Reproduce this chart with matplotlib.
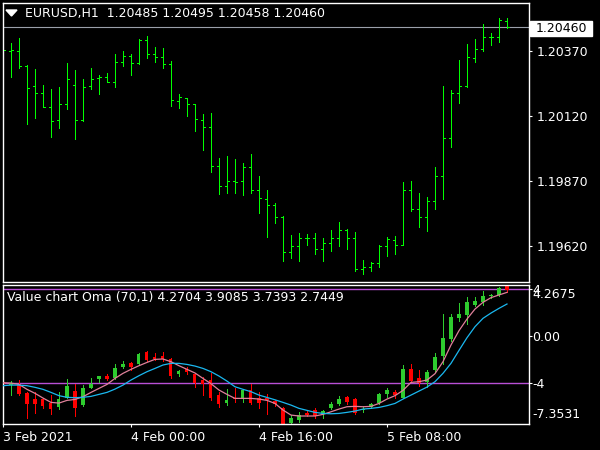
import numpy as np
import matplotlib
matplotlib.use('Agg')
import matplotlib.pyplot as plt
from matplotlib.patches import Rectangle, Polygon

# EURUSD H1 bars (open, high, low, close)
bar_open = [1.20391, 1.20368, 1.20368, 1.20309, 1.20233, 1.20206, 1.20154, 1.20102,
            1.20164, 1.20237, 1.20102, 1.20233, 1.20263, 1.20267, 1.20248, 1.20325,
            1.20348, 1.20321, 1.20409, 1.20355, 1.20344, 1.20317, 1.20175, 1.20187,
            1.20164, 1.20102, 1.20076, 1.19926, 1.19850, 1.19870, 1.19869, 1.19922,
            1.19834, 1.19800, 1.19777, 1.19733, 1.19598, 1.19620, 1.19650, 1.19650,
            1.19608, 1.19633, 1.19650, 1.19684, 1.19650, 1.19532, 1.19539, 1.19555,
            1.19622, 1.19644, 1.19624, 1.19834, 1.19762, 1.19731, 1.19792, 1.19889,
            1.20034, 1.20207, 1.20233, 1.20341, 1.20374, 1.20422, 1.20422, 1.20485]
bar_high = [1.20436, 1.20397, 1.20417, 1.20314, 1.20299, 1.20238, 1.20223, 1.20230,
            1.20322, 1.20295, 1.20261, 1.20303, 1.20276, 1.20282, 1.20357, 1.20368,
            1.20357, 1.20414, 1.20426, 1.20383, 1.20380, 1.20330, 1.20203, 1.20188,
            1.20165, 1.20127, 1.20131, 1.19958, 1.19966, 1.19954, 1.19939, 1.19973,
            1.19889, 1.19836, 1.19787, 1.19735, 1.19662, 1.19671, 1.19666, 1.19671,
            1.19650, 1.19682, 1.19713, 1.19686, 1.19675, 1.19566, 1.19560, 1.19624,
            1.19654, 1.19658, 1.19866, 1.19870, 1.19824, 1.19808, 1.19924, 1.20234,
            1.20219, 1.20334, 1.20395, 1.20414, 1.20472, 1.20437, 1.20495, 1.20495]
bar_low = [1.20343, 1.20270, 1.20304, 1.20090, 1.20113, 1.20152, 1.20040, 1.20074,
           1.20147, 1.20032, 1.20101, 1.20221, 1.20205, 1.20248, 1.20231, 1.20312,
           1.20277, 1.20318, 1.20343, 1.20327, 1.20304, 1.20159, 1.20151, 1.20120,
           1.20063, 1.19990, 1.19903, 1.19822, 1.19825, 1.19825, 1.19818, 1.19825,
           1.19749, 1.19657, 1.19710, 1.19565, 1.19575, 1.19565, 1.19626, 1.19592,
           1.19565, 1.19601, 1.19622, 1.19611, 1.19527, 1.19513, 1.19527, 1.19542,
           1.19584, 1.19589, 1.19623, 1.19754, 1.19694, 1.19677, 1.19764, 1.19802,
           1.19999, 1.20170, 1.20231, 1.20327, 1.20367, 1.20390, 1.20401, 1.20458]
bar_close = [1.20372, 1.20372, 1.20309, 1.20226, 1.20206, 1.20154, 1.20099, 1.20164,
             1.20261, 1.20102, 1.20230, 1.20261, 1.20267, 1.20248, 1.20325, 1.20348,
             1.20321, 1.20410, 1.20355, 1.20344, 1.20317, 1.20179, 1.20192, 1.20164,
             1.20106, 1.20076, 1.19926, 1.19850, 1.19870, 1.19866, 1.19922, 1.19834,
             1.19804, 1.19777, 1.19733, 1.19598, 1.19620, 1.19650, 1.19650, 1.19611,
             1.19633, 1.19650, 1.19681, 1.19650, 1.19532, 1.19539, 1.19555, 1.19622,
             1.19649, 1.19624, 1.19834, 1.19762, 1.19731, 1.19792, 1.19889, 1.20034,
             1.20207, 1.20233, 1.20344, 1.20374, 1.20422, 1.20422, 1.20487, 1.20460]

# Value chart candles
val_open = [-3.92, -4.12, -4.09, -4.80, -5.31, -5.31, -5.65, -5.99, -5.22, -4.66, -5.85,
            -4.37, -3.61, -3.35, -3.55, -2.58, -2.27, -2.36, -1.34, -1.76, -1.68, -1.93,
            -3.18, -2.78, -3.21, -3.72, -3.72, -5.00, -5.65, -5.28, -5.28, -4.57, -5.22,
            -5.22, -5.51, -6.13, -7.35, -7.12, -6.50, -6.30, -6.64, -6.07, -5.73, -5.17,
            -5.34, -6.30, -6.02, -5.65, -4.91, -4.71, -5.28, -2.78, -3.58, -3.89, -2.90,
            -1.65, -0.23, 1.53, 1.81, 2.66, 2.92, 3.40, 3.52, 4.27]
val_high = [-3.86, -3.80, -3.72, -4.71, -4.77, -5.22, -5.00, -4.77, -3.63, -4.09, -4.15,
            -3.55, -3.35, -3.21, -2.36, -2.10, -2.19, -1.45, -1.22, -1.45, -1.37, -1.88,
            -2.87, -2.64, -3.10, -3.44, -3.12, -4.77, -4.51, -4.43, -4.49, -4.09, -4.77,
            -4.91, -5.42, -6.02, -6.70, -6.47, -6.36, -6.13, -6.24, -5.56, -5.08, -5.11,
            -5.28, -6.02, -5.65, -4.83, -4.43, -4.60, -2.44, -2.36, -2.87, -2.87, -1.45,
            1.90, 1.90, 2.86, 3.37, 3.37, 3.86, 3.60, 4.22, 4.40]
val_low = [-4.15, -5.00, -5.00, -6.93, -6.53, -6.07, -6.59, -6.19, -5.28, -6.76, -5.90,
           -4.43, -3.92, -3.72, -3.63, -2.67, -2.87, -2.44, -2.10, -2.02, -2.07, -3.52,
           -3.35, -3.21, -4.29, -4.97, -5.45, -5.99, -5.85, -5.62, -5.59, -5.73, -6.07,
           -6.59, -5.90, -7.80, -7.50, -7.32, -6.76, -6.93, -6.98, -6.19, -5.85, -5.73,
           -6.64, -6.44, -6.07, -5.73, -5.14, -5.28, -5.28, -3.86, -4.20, -4.29, -3.07,
           -2.39, -0.40, 1.33, 1.02, 2.58, 2.66, 3.23, 3.40, 3.80]
val_close = [-4.06, -3.95, -4.91, -5.76, -5.76, -5.93, -6.19, -5.34, -4.23, -6.07, -4.40,
             -4.03, -3.41, -3.63, -2.70, -2.36, -2.58, -1.51, -2.02, -1.93, -1.93, -3.41,
             -2.95, -3.07, -3.95, -4.09, -5.28, -5.76, -5.42, -5.37, -4.57, -5.65, -5.65,
             -5.45, -5.79, -7.45, -6.98, -6.70, -6.70, -6.78, -6.39, -5.73, -5.34, -5.56,
             -6.56, -6.19, -5.73, -4.91, -4.57, -5.00, -2.78, -3.78, -3.95, -3.07, -1.76,
             -0.12, 1.64, 1.90, 2.89, 3.00, 3.43, 3.52, 4.08, 3.91]
oma_fast = [-3.95, -3.98, -4.09, -4.51, -4.85, -5.25, -5.62, -5.68, -5.45, -5.37, -5.14,
            -4.77, -4.43, -4.09, -3.58, -3.15, -2.81, -2.50, -2.22, -1.96, -1.93, -2.16,
            -2.50, -2.81, -3.12, -3.58, -4.03, -4.57, -4.94, -5.28, -5.28, -5.28, -5.34,
            -5.45, -5.71, -6.27, -6.70, -6.78, -6.78, -6.78, -6.64, -6.42, -6.19, -5.99,
            -5.96, -5.99, -5.96, -5.71, -5.34, -5.05, -4.60, -3.92, -3.86, -3.72, -3.18,
            -2.16, -0.74, 0.48, 1.47, 2.32, 2.89, 3.29, 3.52, 3.74]
oma_slow = [-4.20, -4.15, -4.15, -4.20, -4.34, -4.51, -4.77, -5.05, -5.19, -5.22, -5.19,
            -5.11, -4.94, -4.77, -4.49, -4.15, -3.72, -3.35, -3.01, -2.73, -2.44, -2.30,
            -2.30, -2.39, -2.53, -2.73, -3.01, -3.38, -3.81, -4.29, -4.51, -4.71, -5.00,
            -5.20, -5.40, -5.62, -5.85, -6.13, -6.30, -6.47, -6.56, -6.59, -6.56, -6.47,
            -6.36, -6.19, -6.13, -6.05, -5.90, -5.71, -5.34, -5.00, -4.66, -4.32, -3.86,
            -3.15, -2.30, -1.20, -0.12, 0.82, 1.53, 1.98, 2.38, 2.75]

price_ticks = [1.19620, 1.19870, 1.20120, 1.20370]
time_ticks = [0, 16, 32, 48]
time_labels = ['3 Feb 2021', '4 Feb 00:00', '4 Feb 16:00', '5 Feb 08:00']
levels = [4, -4]

plt.rcParams['font.family'] = 'DejaVu Sans'
plt.rcParams['font.size'] = 9

W, H = 600.0, 450.0
fig = plt.figure(figsize=(6, 4.5), dpi=100)
fig.patch.set_facecolor('black')


def px(x, y):
    return (x / W, 1 - y / H)


def style(ax):
    ax.set_facecolor('black')
    for s in ax.spines.values():
        s.set_color('white')
        s.set_linewidth(1)
    ax.yaxis.tick_right()
    ax.tick_params(colors='white', labelcolor='white', length=2.2, width=0.8,
                   labelsize=9)


ax1 = fig.add_axes([2.5 / W, 1 - 282 / H, 526 / W, 279.5 / H])
ax2 = fig.add_axes([2.5 / W, 1 - 424 / H, 526 / W, 139.5 / H])
style(ax1)
style(ax2)

x = np.arange(len(bar_open))
green = '#00ff00'
ax1.vlines(x, bar_low, bar_high, colors=green, lw=0.72, antialiased=False)
ax1.hlines(bar_open, x - 0.28, x, colors=green, lw=0.72, antialiased=False)
ax1.hlines(bar_close, x, x + 0.28, colors=green, lw=0.72, antialiased=False)
ax1.axhline(bar_close[-1], color='#9aa0aa', lw=0.8, zorder=0)
ax1.set_xlim(-0.06, 65.69)
ax1.set_ylim(1.19483, 1.20554)
ax1.set_xticks([])
ax1.set_yticks(price_ticks)
ax1.set_yticklabels(['%.5f' % p for p in price_ticks])
ax1.tick_params(axis='y', pad=3.6)

# current price box
fig.patches.append(Rectangle(px(530, 36), 62 / W, 15 / H, transform=fig.transFigure,
                             color='white'))
fig.text(*px(536, 28.5), '%.5f' % bar_close[-1], color='black', va='center', fontsize=9)

fig.patches.append(Polygon([px(6, 10), px(17, 10), px(11.5, 16)], closed=True,
                           transform=fig.transFigure, color='white'))
fig.text(*px(25, 13.5), 'EURUSD,H1  %.5f %.5f %.5f %.5f' % (
    bar_open[-1], bar_high[-1], bar_low[-1], bar_close[-1]), color='white',
    va='center', fontsize=9)

# value chart panel
vo = np.array(val_open)
vc = np.array(val_close)
cols = np.where(vc >= vo, '#2ecc2e', '#ff0000')
for lv in levels:
    ax2.axhline(lv, color='#b84fd6', lw=1, zorder=0)
ax2.vlines(x, val_low, val_high, colors=cols, lw=0.72, antialiased=False, zorder=2)
ax2.bar(x, np.maximum(np.abs(vc - vo), 0.05), bottom=np.minimum(vo, vc), width=0.38,
        color=cols, zorder=2)
ax2.plot(x, oma_fast, color='#e0809a', lw=0.9, zorder=3)
ax2.plot(x, oma_slow, color='#1ab8f0', lw=0.9, zorder=3)
ax2.set_xlim(-0.06, 65.69)
ax2.set_ylim(-7.46, 4.41)
ax2.set_yticks([4, 0, -4])
ax2.set_yticklabels(['4', '0.00', '-4'])
ax2.tick_params(axis='y', pad=0.6)
ax2.set_xticks(time_ticks)
ax2.set_xticklabels(time_labels)
ax2.tick_params(axis='x', length=2.5, pad=2.5)
for lab in ax2.get_xticklabels():
    lab.set_horizontalalignment('left')

fig.text(*px(532, 295), '4.2675', color='white', va='center', fontsize=9)
fig.text(*px(532, 414), '-7.3531', color='white', va='center', fontsize=9)
fig.text(*px(7, 297), 'Value chart Oma (70,1) 4.2704 3.9085 3.7393 2.7449',
         color='white', va='center', fontsize=9)

fig.savefig('out.png', dpi=100, facecolor='black')
